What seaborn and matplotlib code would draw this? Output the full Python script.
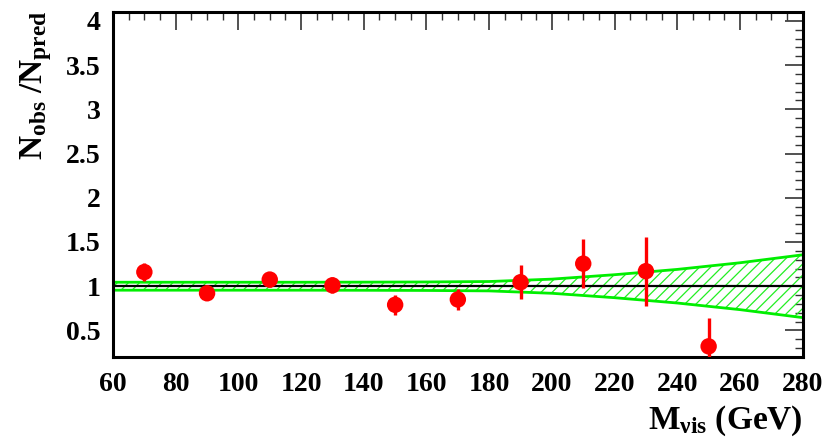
import numpy as np
import pandas as pd
import matplotlib
matplotlib.use("Agg")
import matplotlib.pyplot as plt
import seaborn as sns
from matplotlib.ticker import MultipleLocator

# data
mvis = [70, 90, 110, 130, 150, 170, 190, 210, 230, 250]
ratio = [1.16, 0.92, 1.075, 1.01, 0.79, 0.85, 1.045, 1.255, 1.17, 0.32]
err = [0.10, 0.05, 0.08, 0.09, 0.11, 0.12, 0.19, 0.28, 0.39, 0.32]

band_x = [60, 80, 100, 120, 140, 160, 180, 200, 220, 240, 260, 280]
band_half = [0.045, 0.045, 0.045, 0.045, 0.046, 0.048, 0.053, 0.08, 0.13, 0.19, 0.265, 0.355]

sns.set_style("white")
plt.rcParams['font.family'] = ['Liberation Serif', 'DejaVu Serif']
plt.rcParams['font.weight'] = 'bold'
plt.rcParams['mathtext.default'] = 'regular'
plt.rcParams['text.color'] = 'black'
plt.rcParams['xtick.labelcolor'] = 'black'
plt.rcParams['ytick.labelcolor'] = 'black'
plt.rcParams['hatch.color'] = '#22ee22'
plt.rcParams['hatch.linewidth'] = 0.9

df = pd.DataFrame({'mvis': mvis, 'ratio': ratio, 'err': err})
bx = np.array(band_x, dtype=float)
bh = np.array(band_half)
band = pd.DataFrame({'x': bx, 'up': 1 + bh, 'lo': 1 - bh})

fig = plt.figure(figsize=(8.39, 4.38), dpi=100)
ax = fig.add_axes([0.1347, 0.185, 0.822, 0.7876])

ax.fill_between(band['x'], band['lo'], band['up'], facecolor='none',
                edgecolor='#22ee22', hatch='///', linewidth=0)
sns.lineplot(data=band, x='x', y='up', color='#00ee00', lw=2, ax=ax)
sns.lineplot(data=band, x='x', y='lo', color='#00ee00', lw=2, ax=ax)
ax.axhline(1.0, color='black', lw=1.6, zorder=3)

ax.errorbar(df['mvis'], df['ratio'], yerr=df['err'], fmt='none',
            ecolor='red', elinewidth=2.4, capsize=0, zorder=4)
sns.scatterplot(data=df, x='mvis', y='ratio', color='red', s=140,
                edgecolor='none', zorder=5, ax=ax)

ax.set_xlim(60, 280)
ax.set_ylim(0.2, 4.1)
ax.xaxis.set_major_locator(MultipleLocator(20))
ax.xaxis.set_minor_locator(MultipleLocator(5))
ax.yaxis.set_major_locator(MultipleLocator(0.5))
ax.yaxis.set_minor_locator(MultipleLocator(0.1))
ax.set_yticks([0.5, 1, 1.5, 2, 2.5, 3, 3.5, 4])
ax.set_yticklabels(['0.5', '1', '1.5', '2', '2.5', '3', '3.5', '4'])
ax.tick_params(which='both', direction='in', top=True, right=True,
               labelsize=20, color='#333333', labelcolor='black')
ax.tick_params(which='major', length=13, width=1.2)
ax.tick_params(axis='x', which='major', pad=11)
ax.tick_params(axis='y', which='major', pad=9)
ax.tick_params(which='minor', length=6, width=1.0)
for lab in ax.get_xticklabels() + ax.get_yticklabels():
    lab.set_fontweight('bold')
for sp in ax.spines.values():
    sp.set_linewidth(2.2)
    sp.set_color('black')

ax.set_xlabel('')
ax.set_ylabel('')
fig.text(0.957, 0.0, 'M$_{νis}$ (GeV)', ha='right', va='bottom',
         fontsize=24, fontweight='bold', color='black')
fig.text(0.022, 0.975, 'N$_{obs}$ /N$_{pred}$', ha='left', va='top',
         rotation=90, fontsize=24, fontweight='bold', color='black')

fig.savefig('out.png', dpi=100)
